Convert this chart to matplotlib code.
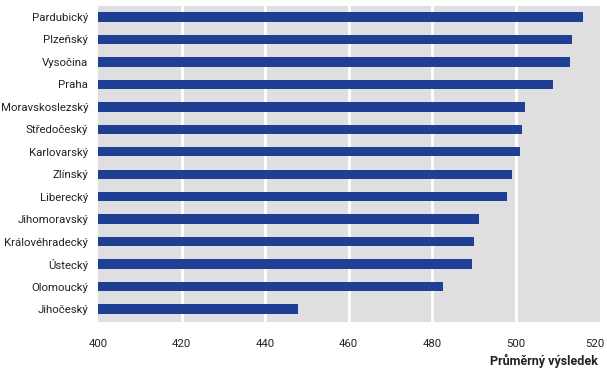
import matplotlib
matplotlib.use("Agg")
import matplotlib.pyplot as plt
from matplotlib.transforms import ScaledTranslation
import numpy as np

plt.rcParams['font.family'] = ['Roboto', 'DejaVu Sans']

kraje = ["Pardubický", "Plzeňský", "Vysočina", "Praha", "Moravskoslezský",
         "Středočeský", "Karlovarský", "Zlínský", "Liberecký", "Jihomoravský",
         "Královéhradecký", "Ústecký", "Olomoucký", "Jihočeský"]
vysledky = [516.2, 513.4, 513.0, 509.0, 502.2, 501.5, 501.0, 499.2, 497.9,
            491.2, 490.1, 489.5, 482.5, 447.8]
ticks = [400, 420, 440, 460, 480, 500, 520]

fig = plt.figure(figsize=(6.07, 3.71), dpi=100)
ax = fig.add_axes([98/607, 1-322/371, 502/607, 316/371])
ax.set_facecolor("#dfdfe1")

y = np.arange(len(kraje))
ax.barh(y, np.array(vysledky) - 400, left=400, height=0.42, color="#1e3f93", zorder=3)

for t in ticks[1:-1]:
    ax.axvline(t, color="white", lw=2, zorder=1)

ax.set_xlim(400, 520.2)
ax.set_ylim(13.58, -0.49)
ax.set_yticks(y)
ax.set_yticklabels(kraje, fontsize=8.2, color="#222222")
ax.set_xticks(ticks)
ax.set_xticklabels([str(t) for t in ticks], fontsize=8.2, color="#222222")
ax.tick_params(length=0, pad=7)
ax.tick_params(axis="x", pad=12)
for s in ax.spines.values():
    s.set_visible(False)

# posunout 520 trochu doleva, aby se vesel
lab = ax.get_xticklabels()[-1]
lab.set_transform(lab.get_transform() + ScaledTranslation(-3/72, 0, fig.dpi_scale_trans))

fig.text(598/607, 1-361/371, "Průměrný výsledek", ha="right", va="center",
         fontsize=9, fontweight="bold", color="#222222")

fig.savefig("out.png", dpi=100)
